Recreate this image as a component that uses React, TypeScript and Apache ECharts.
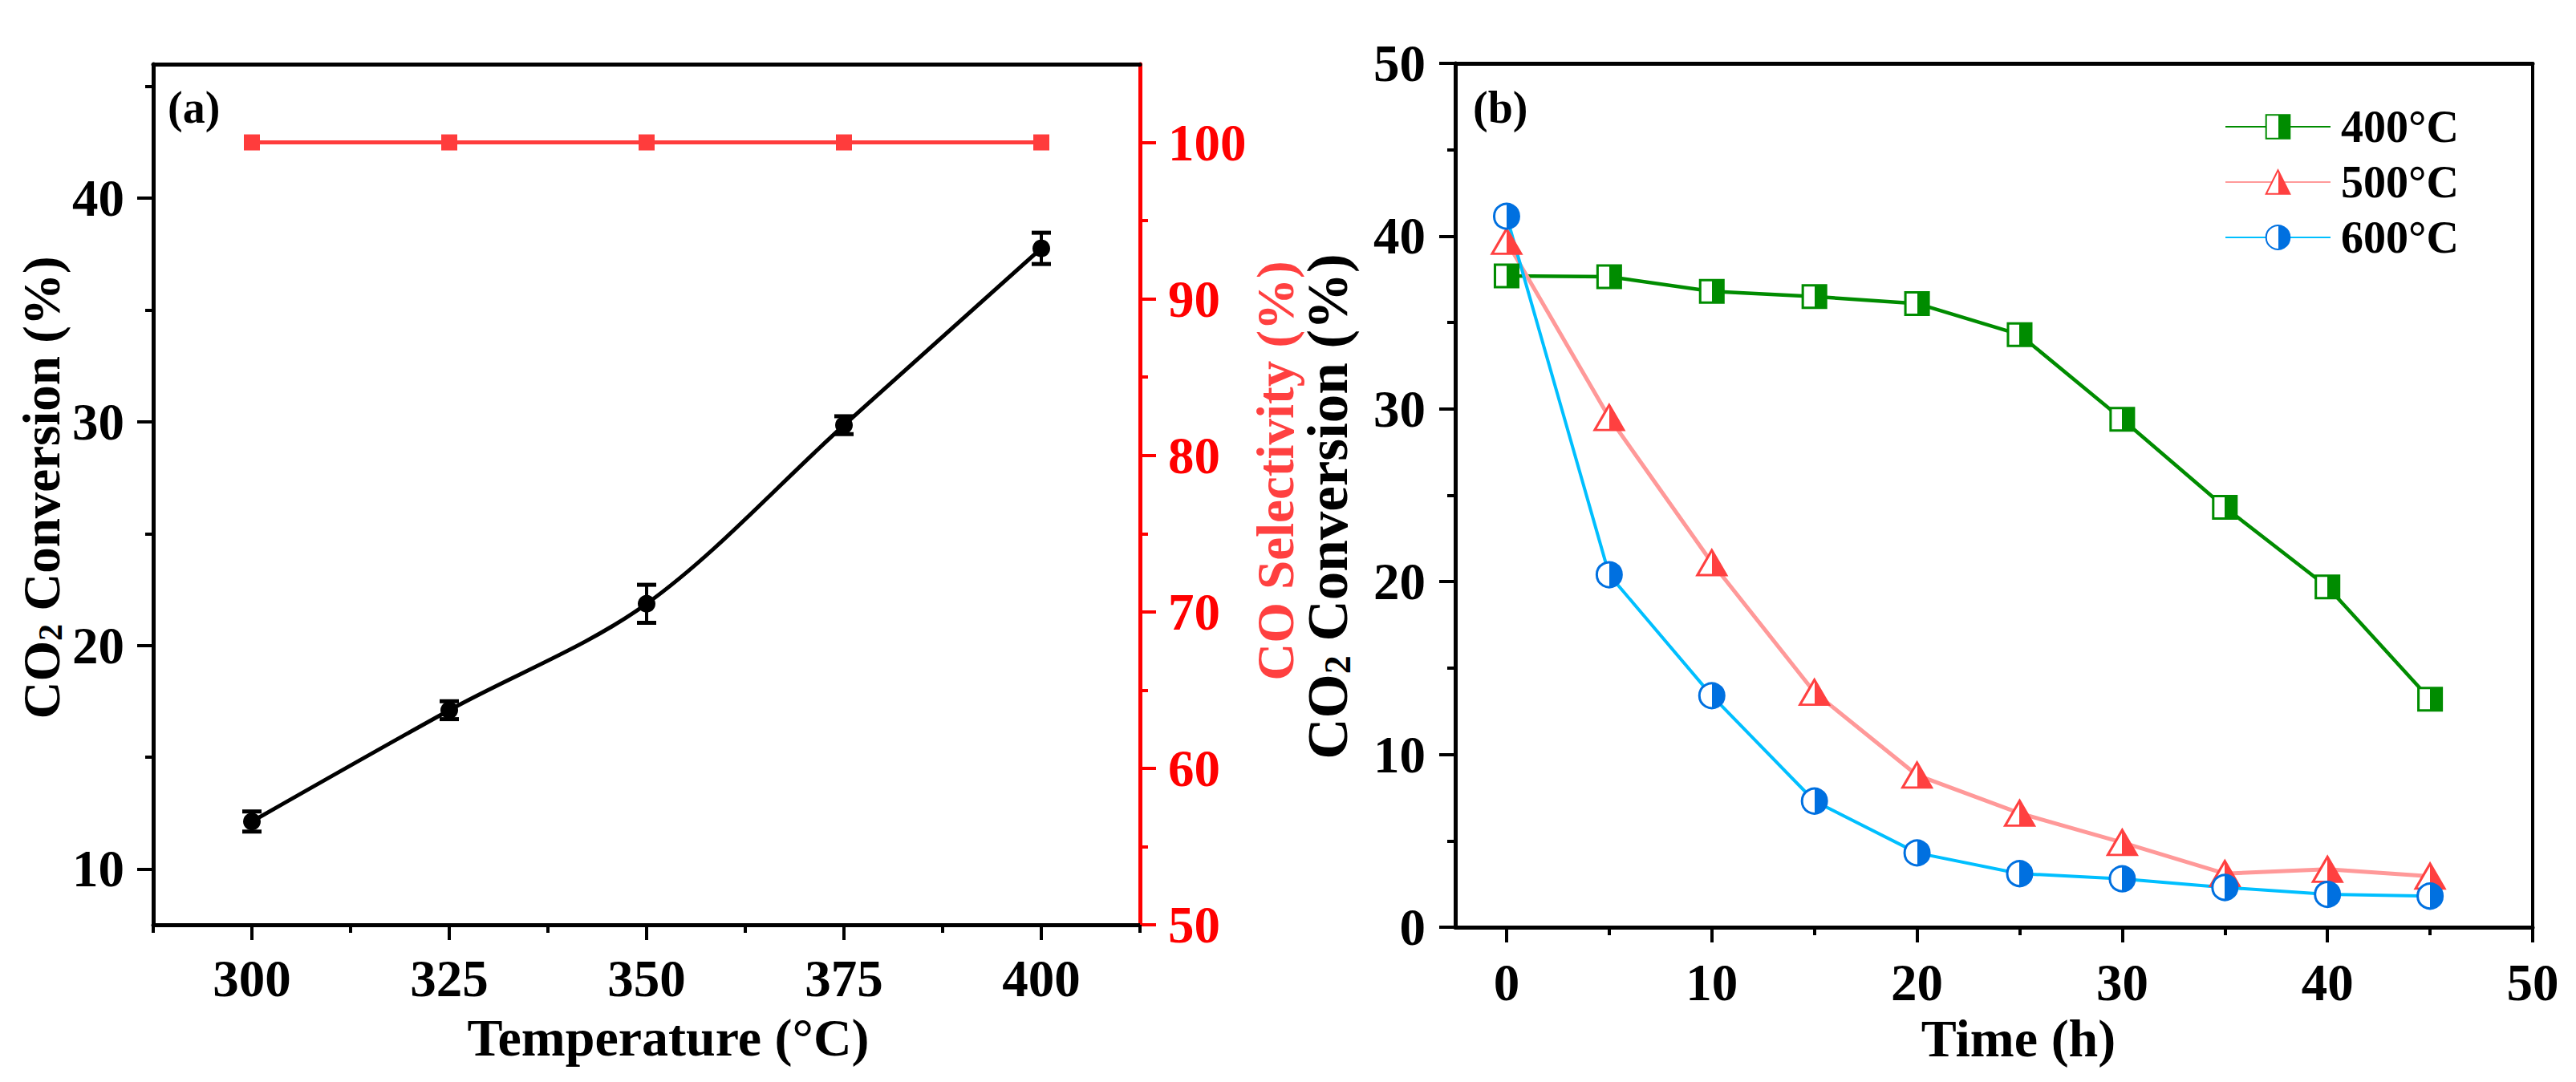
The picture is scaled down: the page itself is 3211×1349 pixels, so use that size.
import React, { useEffect, useRef } from "react";
import * as echarts from "echarts";

const FONT = "Liberation Serif";

// Panel (a)
const tempCategories = [300, 325, 350, 375, 400];
const co2Conversion = [12.12, 17.1, 21.86, 29.85, 37.76];
const co2ConversionErr = [0.45, 0.4, 0.85, 0.4, 0.7];
const coSelectivity = [100, 100, 100, 100, 100];
const tempMajorTicks = [300, 325, 350, 375, 400];
const tempMinorTicks = [287.5, 312.5, 337.5, 362.5, 387.5, 412.5];
const convMajorTicks = [10, 20, 30, 40];
const convMinorTicks = [15, 25, 35, 45];
const selMajorTicks = [50, 60, 70, 80, 90, 100];
const selMinorTicks = [55, 65, 75, 85, 95];

// Panel (b)
const timeHours = [0, 5, 10, 15, 20, 25, 30, 35, 40, 45];
const conv400 = [37.7, 37.65, 36.8, 36.5, 36.1, 34.3, 29.4, 24.3, 19.7, 13.2];
const conv500 = [39.7, 29.5, 21.1, 13.6, 8.8, 6.6, 4.9, 3.1, 3.35, 2.95];
const conv600 = [41.15, 20.4, 13.4, 7.3, 4.3, 3.1, 2.8, 2.3, 1.9, 1.8];
const timeMajorTicks = [0, 10, 20, 30, 40, 50];
const timeMinorTicks = [5, 15, 25, 35, 45];
const convBMajorTicks = [0, 10, 20, 30, 40, 50];
const convBMinorTicks = [5, 15, 25, 35, 45];

const halfFill = (c: string) => ({
  type: "linear",
  x: 0,
  y: 0,
  x2: 1,
  y2: 0,
  colorStops: [
    { offset: 0, color: "#ffffff" },
    { offset: 0.5, color: "#ffffff" },
    { offset: 0.5, color: c },
    { offset: 1, color: c },
  ],
});

const labelStyle = (color = "#000", size = 65) => ({
  fontFamily: FONT,
  fontWeight: "bold" as const,
  fontSize: size,
  color,
});

export default function App() {
  const ref = useRef<HTMLDivElement>(null);

  useEffect(() => {
    if (!ref.current) return;
    const chart = echarts.init(ref.current, undefined, { renderer: "svg" });

    const majorAxis = (extra: any) => ({
      type: "value",
      splitLine: { show: false },
      axisLine: { show: true, onZero: false, lineStyle: { color: "#000", width: 5 } },
      axisTick: { show: true, inside: false, length: 19, lineStyle: { width: 4, color: "#000" } },
      axisLabel: { show: true, ...labelStyle() },
      ...extra,
    });
    const minorAxis = (extra: any, ticks: number[], color = "#000") => ({
      type: "value",
      splitLine: { show: false },
      axisLine: { show: false, onZero: false },
      axisTick: { show: true, inside: false, length: 10, customValues: ticks, lineStyle: { width: 4, color } },
      axisLabel: { show: false },
      ...extra,
    });
    const borderAxis = (extra: any) => ({
      type: "value",
      splitLine: { show: false },
      axisLine: { show: true, onZero: false, lineStyle: { color: "#000", width: 5 } },
      axisTick: { show: false },
      axisLabel: { show: false },
      ...extra,
    });

    const co2Name = (size: number, sub: number) => ({
      rich: {
        b: { fontFamily: FONT, fontWeight: "bold", fontSize: size, lineHeight: size + 12, verticalAlign: "bottom", color: "#000" },
        s: { fontFamily: FONT, fontWeight: "bold", fontSize: sub, lineHeight: sub, verticalAlign: "bottom", color: "#000" },
      },
    });

    const seriesB = (name: string, data: number[], lineColor: string, markColor: string, symbol: string, size: any, lw: number) => ({
      name,
      type: "line",
      xAxisIndex: 3,
      yAxisIndex: 4,
      data: timeHours.map((t, i) => [t, data[i]]),
      symbol,
      symbolSize: size,
      lineStyle: { color: lineColor, width: lw },
      itemStyle: { color: halfFill(markColor), borderColor: markColor, borderWidth: 3 },
      z: 3,
    });

    const option: any = {
      animation: false,
      backgroundColor: "#ffffff",
      title: [
        { text: "(a)", left: 209, top: 106, padding: 0, textStyle: { fontFamily: FONT, fontWeight: "bold", fontSize: 56, color: "#000" } },
        { text: "(b)", left: 1836, top: 106, padding: 0, textStyle: { fontFamily: FONT, fontWeight: "bold", fontSize: 56, color: "#000" } },
      ],
      legend: {
        data: ["400°C", "500°C", "600°C"],
        orient: "vertical",
        left: 2773,
        top: 130,
        padding: 0,
        itemWidth: 131,
        itemHeight: 37,
        itemGap: 13,
        textStyle: { fontFamily: FONT, fontWeight: "bold", fontSize: 56, color: "#000", padding: [0, 0, 0, 8] },
      },
      grid: [
        { left: 191, top: 80, width: 1230, height: 1073, containLabel: false },
        { left: 1814, top: 79, width: 1343, height: 1077, containLabel: false },
      ],
      xAxis: [
        majorAxis({
          gridIndex: 0,
          position: "bottom",
          min: 287.5,
          max: 412.5,
          axisTick: { show: true, inside: false, length: 19, customValues: tempMajorTicks, lineStyle: { width: 4, color: "#000" } },
          axisLabel: { show: true, margin: 34, customValues: tempMajorTicks, ...labelStyle() },
          name: "Temperature (°C)",
          nameLocation: "middle",
          nameGap: 107,
          nameTextStyle: { ...labelStyle("#000", 66), padding: [0, 0, 0, 54] },
        }),
        minorAxis({ gridIndex: 0, position: "bottom", min: 287.5, max: 412.5 }, tempMinorTicks),
        borderAxis({ gridIndex: 0, position: "top", min: 287.5, max: 412.5 }),
        majorAxis({
          gridIndex: 1,
          position: "bottom",
          min: -2.5,
          max: 50,
          axisTick: { show: true, inside: false, length: 19, customValues: timeMajorTicks, lineStyle: { width: 4, color: "#000" } },
          axisLabel: { show: true, margin: 36, customValues: timeMajorTicks, ...labelStyle() },
          name: "Time (h)",
          nameLocation: "middle",
          nameGap: 105,
          nameTextStyle: { ...labelStyle("#000", 66), padding: [0, 0, 0, 61] },
        }),
        minorAxis({ gridIndex: 1, position: "bottom", min: -2.5, max: 50 }, timeMinorTicks),
        borderAxis({ gridIndex: 1, position: "top", min: -2.5, max: 50 }),
      ],
      yAxis: [
        majorAxis({
          gridIndex: 0,
          position: "left",
          min: 7.5,
          max: 46,
          axisTick: { show: true, inside: false, length: 20, customValues: convMajorTicks, lineStyle: { width: 4, color: "#000" } },
          axisLabel: { show: true, margin: 36, customValues: convMajorTicks, ...labelStyle() },
          name: "{b|CO}{s|2}{b| Conversion (%)}",
          nameLocation: "middle",
          nameRotate: 90,
          nameGap: 107,
          nameTextStyle: { ...co2Name(65, 42), padding: [0, 0, 0, 17] },
        }),
        minorAxis({ gridIndex: 0, position: "left", min: 7.5, max: 46 }, convMinorTicks),
        majorAxis({
          gridIndex: 0,
          position: "right",
          min: 50,
          max: 105,
          axisLine: { show: true, onZero: false, lineStyle: { color: "#ff0000", width: 5 } },
          axisTick: { show: true, inside: false, length: 20, customValues: selMajorTicks, lineStyle: { width: 4, color: "#ff0000" } },
          axisLabel: { show: true, margin: 35, customValues: selMajorTicks, ...labelStyle("#ff0000") },
          name: "CO Selectivity (%)",
          nameLocation: "middle",
          nameRotate: 90,
          nameGap: 118,
          nameTextStyle: { ...labelStyle("#ff4040", 65), padding: [0, 0, 0, 59] },
        }),
        minorAxis({ gridIndex: 0, position: "right", min: 50, max: 105 }, selMinorTicks, "#ff0000"),
        majorAxis({
          gridIndex: 1,
          position: "left",
          min: 0,
          max: 50,
          axisTick: { show: true, inside: false, length: 20, customValues: convBMajorTicks, lineStyle: { width: 4, color: "#000" } },
          axisLabel: { show: true, margin: 37, customValues: convBMajorTicks, ...labelStyle() },
          name: "{b|CO}{s|2}{b| Conversion (%)}",
          nameLocation: "middle",
          nameRotate: 90,
          nameGap: 124,
          nameTextStyle: { ...co2Name(71, 46), padding: [0, 28, 0, 0] },
        }),
        minorAxis({ gridIndex: 1, position: "left", min: 0, max: 50 }, convBMinorTicks),
        borderAxis({ gridIndex: 1, position: "right", min: 0, max: 50, axisLine: { show: true, onZero: false, lineStyle: { color: "#000", width: 4 } } }),
      ],
      series: [
        {
          name: "CO2 Conversion",
          type: "line",
          xAxisIndex: 0,
          yAxisIndex: 0,
          data: tempCategories.map((t, i) => [t, co2Conversion[i]]),
          smooth: 0.33,
          symbol: "circle",
          symbolSize: 22,
          lineStyle: { color: "#000", width: 5 },
          itemStyle: { color: "#000" },
          z: 3,
        },
        {
          name: "CO2 Conversion error",
          type: "custom",
          xAxisIndex: 0,
          yAxisIndex: 0,
          data: tempCategories.map((t, i) => [t, co2Conversion[i], co2ConversionErr[i]]),
          encode: { x: 0, y: 1 },
          z: 4,
          renderItem: (params: any, api: any) => {
            const x = api.value(0);
            const y = api.value(1);
            const e = api.value(2);
            const top = api.coord([x, y + e]);
            const bot = api.coord([x, y - e]);
            const hw = 12;
            const st = { stroke: "#000", lineWidth: 5 };
            return {
              type: "group",
              children: [
                { type: "line", shape: { x1: top[0], y1: top[1], x2: bot[0], y2: bot[1] }, style: { stroke: "#000", lineWidth: 4 } },
                { type: "line", shape: { x1: top[0] - hw, y1: top[1], x2: top[0] + hw, y2: top[1] }, style: st },
                { type: "line", shape: { x1: bot[0] - hw, y1: bot[1], x2: bot[0] + hw, y2: bot[1] }, style: st },
              ],
            };
          },
        },
        {
          name: "CO Selectivity",
          type: "line",
          xAxisIndex: 0,
          yAxisIndex: 2,
          data: tempCategories.map((t, i) => [t, coSelectivity[i]]),
          symbol: "rect",
          symbolSize: 20,
          lineStyle: { color: "#ff3c3c", width: 5 },
          itemStyle: { color: "#ff3c3c" },
          z: 3,
        },
        seriesB("400°C", conv400, "#008c00", "#008c00", "rect", [29, 28], 4.5),
        seriesB("500°C", conv500, "#ff9999", "#ff4040", "triangle", [36, 31], 5),
        seriesB("600°C", conv600, "#00bfff", "#0070e0", "circle", 31, 4),
      ],
    };

    chart.setOption(option);
    return () => chart.dispose();
  }, []);

  return (
    <div
      ref={ref}
      style={{ position: "absolute", left: 0, top: 0, width: 3211, height: 1349, background: "#fff" }}
    />
  );
}
